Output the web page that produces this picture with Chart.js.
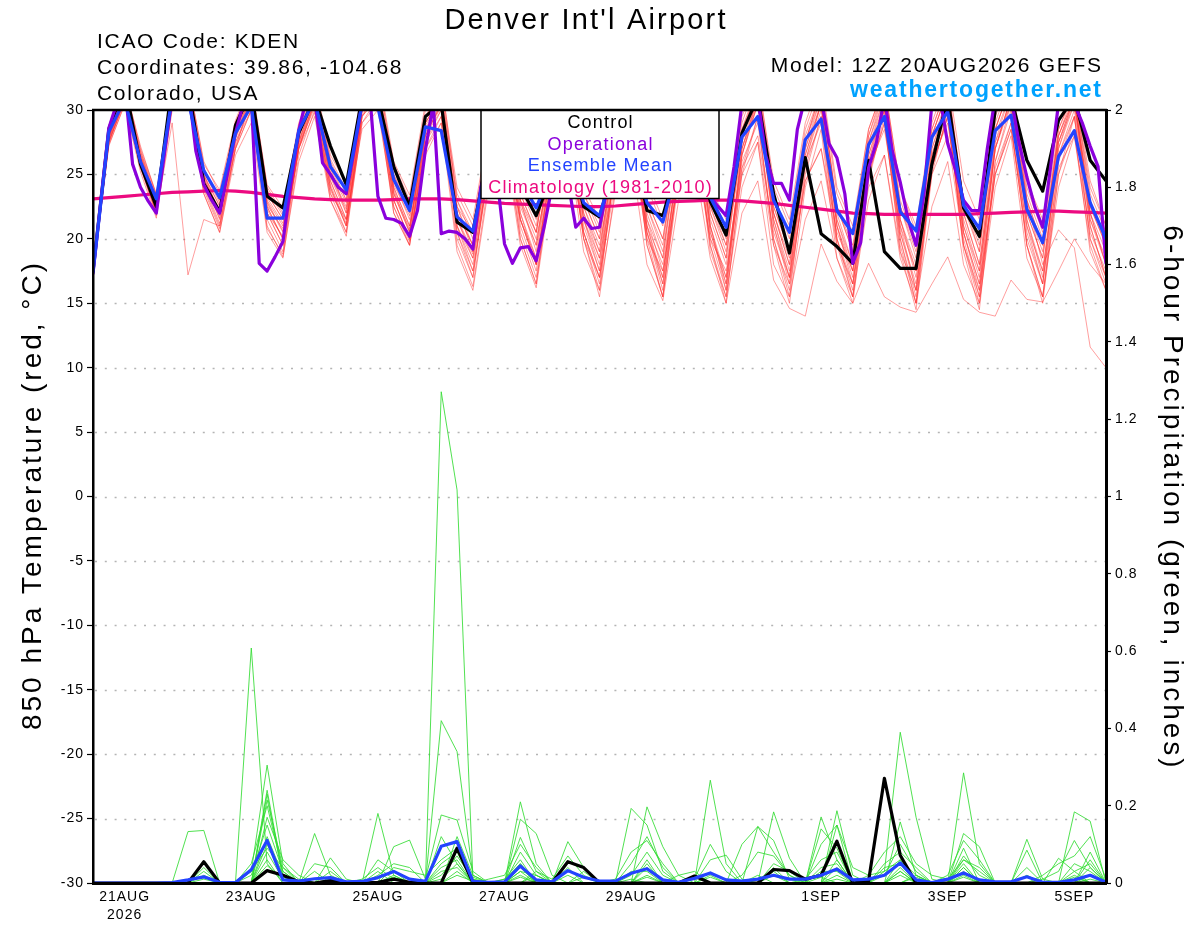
<!DOCTYPE html>
<html>
<head>
<meta charset="utf-8">
<script src="https://cdn.jsdelivr.net/npm/chart.js@4.4.1/dist/chart.umd.min.js"></script>
<style>
html,body{margin:0;padding:0;background:#fff;}
canvas{display:block;}
</style>
</head>
<body>
<canvas id="c" width="1200" height="927"></canvas>
<script>
// ---------------- text ----------------
const titleText = "Denver Int'l Airport";
const infoLines = ["ICAO Code: KDEN", "Coordinates: 39.86, -104.68", "Colorado, USA"];
const modelText = "Model: 12Z 20AUG2026 GEFS";
const siteText = "weathertogether.net";
const leftAxisTitle = "850 hPa Temperature (red, \u00B0C)";
const rightAxisTitle = "6-hour Precipitation (green, inches)";
const legendEntries = ["Control", "Operational", "Ensemble Mean", "Climatology (1981-2010)"];

// ---------------- x axis (hours after 12Z 20AUG2026) ----------------
const tickHours = [12, 60, 108, 156, 204, 276, 324, 372];
const tickLabels = [["21AUG", "2026"], "23AUG", "25AUG", "27AUG", "29AUG", "1SEP", "3SEP", "5SEP"];

// ---------------- 850 hPa temperature (6-hourly, 65 values) ----------------
const controlTemp = [17.5,
 28.5,32.0,25.8,22.5, 32.0,32.0,24.3,22.1, 28.8,31.5,23.3,22.4, 28.2,31.0,27.2,24.2,
 31.0,31.0,25.6,22.5, 29.5,30.5,21.3,20.5, 27.0,29.0,24.0,21.8, 25.0,27.5,22.5,21.7,
 26.0,28.0,22.2,21.8, 26.0,29.0,22.9,20.3, 28.2,31.0,23.5,18.9, 26.3,20.4,19.4,18.1,
 26.1,19.0,17.7,17.7, 25.8,31.0,22.4,20.2, 30.0,31.0,26.1,23.7, 29.2,31.0,26.1,24.5];
const meanTemp = [17.4,
 28.3,30.8,26.0,23.1, 31.0,30.8,25.3,23.2, 28.2,30.3,21.6,21.6, 28.4,30.8,25.6,23.8,
 30.5,30.2,24.6,22.2, 28.7,28.4,21.7,20.6, 26.5,28.0,24.5,22.4, 25.5,27.0,22.8,21.8,
 26.0,27.5,22.8,21.3, 26.0,28.0,23.2,20.9, 27.9,29.5,23.0,20.5, 27.7,29.3,22.2,20.4,
 27.3,29.5,22.1,20.6, 27.9,29.9,22.6,20.8, 28.4,29.6,22.3,19.7, 26.4,28.4,22.8,20.0];
// Operational run is 3-hourly (129 values)
const operTemp = [17.3,
 23.0,28.6,30.5,32.0,25.8,24.0,22.9,22.0,
 26.5,31.0,32.0,32.0,26.8,24.2,23.0,22.0,
 25.1,28.2,30.5,31.0,18.1,17.5,18.6,19.8,
 24.3,28.4,31.0,31.0,25.9,25.0,24.0,23.5,
 26.9,30.5,31.0,23.3,21.6,21.5,21.2,20.2,
 22.2,26.9,30.5,20.4,20.6,20.5,20.0,19.2,
 24.0,26.0,25.0,19.6,18.1,19.3,19.4,18.3,
 20.9,24.0,26.0,24.5,20.9,21.6,20.8,20.9,
 24.0,26.0,28.0,29.0,28.0,26.0,25.0,24.5,
 25.5,27.5,29.0,30.5,28.0,23.3,22.5,21.8,
 25.6,30.5,31.0,31.0,26.5,24.3,24.3,23.0,
 28.5,31.0,31.5,31.0,27.4,26.3,23.5,18.1,
 19.7,25.5,27.5,31.0,26.8,24.4,21.5,19.5,
 23.5,30.5,31.0,27.4,25.3,23.0,22.2,22.2,
 27.0,31.0,31.5,31.0,27.5,24.8,22.5,20.9,
 25.6,30.5,31.0,30.5,29.0,27.2,25.6,18.1];
const climTemp = [23.1,
 23.2,23.3,23.4,23.5, 23.6,23.65,23.7,23.75, 23.7,23.6,23.45,23.3, 23.2,23.1,23.05,23.0,
 23.0,23.0,23.05,23.1, 23.1,23.1,23.05,22.95, 22.85,22.75,22.7,22.65, 22.6,22.55,22.5,22.5,
 22.55,22.65,22.75,22.85, 22.9,22.95,23.0,23.0, 22.95,22.85,22.75,22.6, 22.45,22.3,22.15,22.0,
 21.95,21.9,21.9,21.9, 21.9,21.9,21.9,21.95, 22.0,22.05,22.1,22.15, 22.15,22.1,22.05,22.0];

// ensemble members (temperature)
const tempMember01 = [17.4, 28.0,31.5,26.5,22.8, 31.0,32.0,25.0,22.5, 28.5,31.5,23.0,21.0, 28.0,31.5,25.5,22.0, 30.5,32.0,24.5,21.5, 29.0,31.0,22.0,19.5, 27.0,30.5,23.5,20.5, 27.5,31.0,23.0,20.0, 28.0,31.5,22.5,19.0, 27.0,31.0,22.0,18.5, 28.0,32.0,23.5,19.0, 27.5,31.5,22.0,18.0, 27.0,31.0,22.5,19.5, 28.5,32.0,23.0,19.0, 29.0,32.5,23.5,20.0, 28.0,31.5,24.0,21.0];
const tempMember02 = [17.5, 27.5,30.8,25.8,22.0, 30.5,31.5,24.0,21.0, 27.5,30.5,22.0,19.5, 27.0,30.5,24.0,21.0, 29.5,31.5,23.5,20.5, 28.0,30.5,20.5,17.5, 25.5,29.0,21.5,18.0, 26.0,29.5,21.0,17.5, 26.5,30.5,21.5,17.5, 26.0,30.0,20.5,17.0, 26.5,31.0,21.0,16.5, 26.0,30.5,20.0,16.5, 25.5,30.0,20.5,16.5, 27.0,31.0,21.0,17.0, 27.5,31.5,21.5,17.5, 27.0,31.0,22.0,18.0];
const tempMember03 = [17.3, 28.5,32.0,27.0,23.5, 31.5,32.5,26.0,23.5, 29.0,32.0,24.0,22.0, 28.5,32.0,26.0,23.5, 31.0,32.5,25.5,22.5, 29.5,31.5,23.5,21.0, 28.0,31.5,24.5,21.5, 28.5,32.0,24.0,21.5, 29.0,32.0,24.0,21.0, 28.5,32.5,24.0,21.5, 29.0,32.5,24.5,21.5, 29.0,32.5,24.0,21.0, 28.5,32.0,24.0,21.0, 29.0,32.5,24.5,21.5, 29.5,32.5,24.5,21.5, 29.0,32.0,24.5,21.0];
const tempMember04 = [17.4, 27.8,31.2,26.0,22.3, 30.8,31.0,23.5,20.5, 26.5,29.0,20.5,18.5, 26.5,30.0,23.5,20.5, 29.0,31.0,22.5,19.5, 27.5,29.5,19.5,16.3, 24.5,28.0,20.0,16.5, 25.0,29.0,20.5,17.0, 25.5,29.5,19.5,15.5, 24.5,29.0,19.5,15.5, 25.0,29.5,19.5,15.0, 24.0,28.5,18.5,15.0, 24.5,29.5,19.0,14.5, 25.0,30.0,19.0,14.5, 26.0,30.5,19.5,15.0, 25.0,29.5,20.0,16.5];
const tempMember05 = [17.5, 27.2,30.5,25.5,22.0, 29.0,17.2,21.5,21.0, 27.0,31.0,22.5,20.0, 27.5,31.0,24.5,21.5, 30.0,31.5,24.0,21.0, 28.5,31.0,21.5,18.5, 26.5,30.0,22.5,19.5, 27.0,30.5,22.5,19.0, 27.5,31.0,23.0,20.0, 27.5,31.5,22.5,19.5, 27.0,31.0,22.0,18.5, 27.5,31.5,22.5,19.0, 28.0,32.0,23.0,19.5, 28.0,31.5,22.5,19.0, 28.5,32.0,23.0,19.5, 28.0,31.0,22.5,19.5];
const tempMember06 = [17.3, 27.6,30.6,26.2,22.6, 31.2,31.8,24.8,22.0, 28.2,31.2,23.5,21.5, 28.5,31.0,25.0,22.5, 30.0,31.0,23.0,20.0, 27.0,29.5,22.5,20.5, 27.5,30.0,23.0,20.0, 26.0,28.5,21.5,18.5, 25.0,27.5,21.0,18.0, 26.0,29.5,21.5,18.0, 25.5,28.0,20.5,17.0, 24.5,27.0,20.5,17.5, 25.5,28.5,21.0,17.5, 26.0,29.0,20.5,16.5, 25.0,28.5,21.0,17.5, 26.5,30.0,21.5,18.5];
const tempMember07 = [17.6, 28.2,31.8,26.8,23.0, 31.8,32.2,25.5,23.0, 29.0,31.8,22.8,20.5, 27.8,31.5,25.8,23.0, 30.8,32.0,25.0,22.0, 29.0,31.0,22.5,19.0, 26.0,29.5,22.0,18.5, 27.0,30.5,21.5,18.0, 27.0,30.5,22.0,18.5, 28.0,31.5,23.0,20.0, 28.5,31.5,22.0,18.0, 26.5,30.5,21.5,18.0, 27.5,31.5,21.5,17.0, 26.5,30.5,21.0,17.5, 27.0,31.0,22.0,18.5, 28.5,31.5,23.0,19.5];
const tempMember08 = [17.4, 27.9,31.3,26.3,22.4, 30.6,31.6,24.6,22.3, 28.0,31.0,22.3,20.0, 27.0,30.8,24.8,22.0, 30.2,31.8,24.0,21.0, 28.5,30.5,21.0,18.0, 26.0,29.5,21.5,18.0, 26.5,30.0,22.0,18.5, 27.0,30.5,21.0,17.0, 26.5,30.5,21.0,17.0, 27.0,30.5,21.5,17.5, 26.0,30.0,21.5,17.5, 27.0,30.5,21.5,18.0, 27.5,31.0,22.0,18.0, 27.5,30.5,23.0,18.0, 20.7,19.3,11.6,10.0];
const tempMember09 = [17.5, 27.4,30.9,25.6,21.8, 30.4,31.2,24.2,21.2, 27.2,30.6,21.5,19.0, 27.2,30.2,23.8,21.0, 29.8,31.2,23.0,20.0, 27.5,30.0,20.0,17.0, 25.5,28.5,20.0,16.5, 25.5,29.0,20.5,16.5, 25.5,29.5,19.5,15.5, 25.5,29.0,19.0,15.5, 24.0,27.5,18.0,15.5, 21.5,24.5,18.5,15.5, 23.0,26.5,18.5,15.0, 22.5,26.0,18.0,15.0, 24.0,28.0,18.5,15.5, 24.0,28.0,19.5,16.0];
const tempMember10 = [17.3, 27.3,30.4,25.2,21.6, 30.0,30.8,23.8,20.8, 27.0,30.0,21.0,18.6, 26.0,29.5,23.0,20.2, 29.0,30.5,22.0,19.5, 26.5,29.0,19.0,16.0, 24.0,27.5,19.5,16.2, 24.5,27.5,19.0,16.0, 23.5,26.5,18.0,15.2, 23.0,26.0,18.5,15.0, 22.0,24.5,16.8,14.6, 14.0,19.6,16.7,15.0, 18.1,15.5,14.7,14.3, 16.5,18.6,15.3,14.3, 14.0,16.8,15.3,15.1, 17.5,20.0,18.0,16.5];
const tempMember11 = [17.6, 28.1,31.6,26.6,23.2, 31.4,32.2,25.2,22.8, 28.6,31.8,23.8,21.8, 28.8,31.8,26.2,23.8, 31.2,32.5,25.8,23.0, 30.0,32.0,24.0,21.5, 28.5,31.5,24.0,21.0, 28.0,31.5,23.5,21.0, 28.5,32.0,24.5,21.5, 29.0,32.0,23.5,21.0, 29.5,32.5,24.0,21.0, 28.5,32.0,23.5,20.5, 28.5,32.0,24.0,20.5, 28.0,31.5,23.0,20.0, 28.5,32.0,24.0,20.5, 28.5,31.5,23.5,20.5];
const tempMember12 = [17.4, 27.7,31.0,25.9,22.2, 30.9,31.4,24.4,21.6, 27.8,30.8,22.6,20.8, 27.4,30.6,24.2,21.2, 29.6,31.4,23.6,20.8, 28.2,30.2,21.5,18.8, 27.0,30.0,22.8,19.5, 27.0,30.5,22.5,19.5, 26.5,29.5,20.5,16.5, 25.0,28.5,20.0,16.0, 26.0,29.0,20.0,16.0, 25.0,29.5,20.0,16.0, 26.0,30.0,20.0,15.5, 25.5,29.5,19.5,15.5, 26.0,30.0,20.5,16.5, 26.5,29.5,21.0,17.0];
const tempMember13 = [17.5, 27.5,30.7,25.7,22.1, 30.2,31.0,24.0,21.8, 27.5,30.0,22.0,20.2, 27.0,29.8,23.5,21.5, 28.5,30.0,22.5,19.8, 27.0,29.0,21.0,18.5, 25.0,27.5,21.5,18.5, 24.5,27.0,20.5,17.0, 24.5,27.5,20.0,17.5, 24.5,27.0,20.0,17.5, 25.0,27.5,19.5,16.5, 24.5,27.0,19.5,16.5, 24.0,26.5,19.0,16.0, 25.0,28.0,19.5,16.0, 25.0,28.5,20.0,16.5, 25.5,28.0,20.5,17.5];
const tempMember14 = [17.4, 28.3,31.9,27.2,23.4, 31.6,32.6,25.8,23.8, 29.2,32.2,24.2,22.4, 29.0,32.3,26.5,24.3, 31.5,33.0,26.0,23.4, 30.5,32.5,23.0,20.0, 28.0,31.0,23.0,20.5, 28.0,31.5,23.5,20.5, 28.5,31.5,23.0,20.0, 28.0,31.5,23.0,19.5, 28.5,32.0,23.5,20.0, 28.0,31.5,22.5,19.5, 27.5,31.0,22.5,19.0, 28.5,32.0,23.0,19.5, 28.5,32.0,23.0,19.5, 27.5,31.0,22.0,19.0];
const tempMember15 = [17.3, 27.9,31.4,26.4,22.7, 31.1,31.9,24.9,22.6, 28.4,31.4,23.2,21.2, 28.2,31.2,25.2,22.8, 30.6,31.6,24.2,21.8, 28.8,30.8,22.0,19.5, 26.5,30.0,22.0,18.0, 25.5,28.5,20.0,15.5, 24.0,28.0,20.5,16.0, 25.5,29.5,20.5,16.5, 26.5,30.5,21.0,17.0, 26.5,30.5,21.0,17.0, 26.5,30.0,20.5,16.0, 26.0,30.0,20.5,16.5, 27.0,31.0,21.5,17.0, 27.0,30.5,21.5,18.0];
const tempMember16 = [17.5, 28.0,31.2,26.1,22.5, 30.7,31.7,24.7,22.0, 28.1,31.1,22.9,20.6, 27.6,31.0,24.9,22.3, 30.3,31.5,23.8,20.6, 28.3,30.3,21.6,19.0, 26.5,29.5,21.0,17.5, 26.0,29.5,22.0,19.0, 27.0,30.0,21.5,18.5, 27.0,30.5,22.0,18.5, 27.5,31.0,22.5,19.0, 27.0,30.5,21.0,17.5, 26.5,30.5,21.5,17.5, 27.0,30.5,21.5,17.5, 27.0,30.5,22.0,18.5, 27.5,30.5,22.0,18.0];
const tempMember17 = [17.4, 28.0,31.5,26.0,22.2, 31.0,31.5,23.5,20.5, 27.0,30.0,20.8,18.8, 27.2,30.8,23.0,20.5, 29.5,31.0,22.0,19.5, 28.0,30.5,21.0,17.5, 25.0,28.5,21.5,18.0, 26.0,29.0,20.0,17.0, 25.5,29.5,20.5,17.0, 26.5,30.5,21.0,16.5, 27.0,31.0,22.0,18.0, 26.0,29.0,19.5,15.5, 25.0,29.0,20.0,15.0, 25.5,29.5,20.0,15.5, 25.5,29.0,19.5,15.5, 26.0,29.5,20.0,17.0];
const tempMember18 = [17.5, 27.8,31.0,26.5,23.0, 31.0,32.0,25.0,22.0, 28.5,31.0,22.0,19.5, 27.5,31.0,24.5,21.5, 30.0,31.5,23.5,20.5, 29.0,31.0,22.5,19.5, 27.5,31.0,23.0,19.0, 27.0,30.5,21.5,17.5, 26.0,29.5,21.0,16.5, 26.0,30.0,21.0,16.0, 26.5,30.5,21.5,17.0, 27.0,31.0,21.0,16.5, 26.0,30.5,21.0,16.0, 26.5,30.5,20.5,16.0, 27.0,31.0,21.0,16.5, 27.5,31.0,21.0,17.0];
const tempMember19 = [17.3, 27.6,31.0,25.8,22.0, 30.5,31.5,24.5,21.5, 27.8,31.0,22.5,20.0, 27.0,30.5,24.0,21.0, 29.5,31.0,23.0,20.0, 28.0,30.0,20.5,17.0, 26.0,29.0,20.5,17.0, 25.0,28.5,20.0,16.0, 26.0,29.5,20.0,15.5, 25.0,29.0,19.5,15.0, 25.5,29.5,20.0,15.5, 25.5,29.5,20.0,15.5, 25.0,29.0,19.5,15.0, 25.5,29.5,19.5,15.0, 25.0,29.0,19.5,15.5, 25.0,28.5,19.0,16.0];
const tempMember20 = [17.6, 28.2,31.6,26.8,23.4, 31.5,32.0,25.5,23.0, 28.8,31.5,23.5,21.5, 28.5,31.5,25.5,23.0, 30.5,32.0,25.0,22.5, 29.5,31.5,23.0,20.5, 28.0,31.0,23.5,20.5, 28.0,31.0,23.0,20.0, 27.5,31.0,22.5,19.5, 28.0,31.5,22.5,19.0, 28.0,31.5,22.5,19.0, 27.5,31.0,22.5,19.0, 28.0,31.5,22.5,18.5, 28.0,31.5,22.0,18.0, 28.0,31.5,22.5,19.0, 28.0,31.0,22.5,19.5];
const tempMembers = [tempMember01, tempMember02, tempMember03, tempMember04, tempMember05, tempMember06, tempMember07, tempMember08, tempMember09, tempMember10,
  tempMember11, tempMember12, tempMember13, tempMember14, tempMember15, tempMember16, tempMember17, tempMember18, tempMember19, tempMember20];

// ---------------- 6-hour precipitation (inches, 65 values) ----------------
const controlPrecip = [0,
 0,0,0,0, 0,0,0.055,0, 0,0,0.032,0.02, 0.003,0,0.006,0.002, 0,0.002,0.01,0.002, 0,0,0.09,0.002,
 0,0,0,0, 0,0.055,0.04,0, 0,0,0,0, 0,0.018,0,0, 0,0,0.035,0.032, 0.01,0.02,0.108,0,
 0.005,0.271,0.072,0, 0,0,0,0, 0,0,0,0, 0,0,0,0];
const meanPrecip = [0,
 0,0,0,0, 0.001,0.008,0.016,0.002, 0.001,0.034,0.11,0.008, 0.005,0.011,0.014,0.003, 0.004,0.014,0.03,0.01, 0.004,0.095,0.107,0.004,
 0.002,0.003,0.044,0.008, 0.003,0.032,0.015,0.005, 0.005,0.025,0.037,0.008, 0.002,0.012,0.026,0.008, 0.005,0.01,0.02,0.01, 0.01,0.02,0.036,0.008,
 0.01,0.02,0.052,0.008, 0.001,0.01,0.026,0.008, 0.003,0.003,0.016,0.002, 0.002,0.008,0.02,0.002];
const precipMember01 = [0, 0,0,0,0, 0,0.133,0.136,0, 0,0.05,0.2,0.03, 0,0,0,0, 0,0,0,0, 0,0.05,0.08,0, 0,0,0.03,0, 0,0,0,0, 0,0,0.197,0.094, 0.02,0,0,0, 0,0,0,0, 0,0,0.15,0, 0,0,0.03,0, 0,0,0.128,0.094, 0,0,0,0, 0,0.02,0,0];
const precipMember02 = [0, 0,0,0,0, 0,0,0,0, 0,0.608,0.05,0, 0,0,0,0, 0,0.18,0.02,0, 0,0.12,0.05,0, 0,0,0,0.02, 0,0,0,0, 0,0.193,0.15,0.03, 0,0,0,0, 0,0,0,0, 0,0.171,0.06,0, 0,0,0,0.02, 0,0,0,0, 0,0,0.113,0.01, 0,0,0,0];
const precipMember03 = [0, 0,0,0,0, 0,0,0,0, 0,0.03,0.305,0.05, 0,0.128,0.02,0, 0,0,0,0, 0,1.271,1.017,0.015, 0,0,0.21,0.05, 0,0,0,0, 0,0,0,0, 0,0,0.266,0.05, 0,0,0,0, 0,0,0,0, 0,0.03,0.39,0.17, 0.01,0,0,0, 0,0,0,0, 0,0,0,0];
const precipMember04 = [0, 0,0,0,0, 0,0,0,0, 0,0,0.24,0.02, 0,0,0.065,0.01, 0,0,0,0, 0,0.42,0.34,0.02, 0,0,0.165,0.128, 0.02,0,0,0, 0,0,0,0, 0,0,0,0, 0,0,0.184,0.064, 0,0,0.187,0.02, 0,0,0,0, 0,0,0.285,0.05, 0,0,0,0, 0,0.184,0.16,0];
const precipMember05 = [0, 0,0,0,0, 0,0,0.04,0, 0,0,0.23,0.01, 0,0,0,0, 0,0,0.094,0.111, 0.01,0.176,0.163,0.03, 0,0,0,0, 0,0.107,0.04,0, 0,0,0.05,0, 0,0,0,0, 0,0.146,0.11,0.01, 0,0,0,0, 0,0,0.158,0.02, 0,0,0,0, 0,0,0,0, 0,0,0.06,0];
const precipMember06 = [0, 0,0,0,0, 0,0,0.03,0, 0,0,0.215,0.04, 0,0.05,0.04,0, 0,0.06,0.03,0, 0,0,0.12,0.02, 0,0,0.118,0.03, 0,0,0,0, 0,0.02,0.08,0.02, 0,0,0,0, 0,0,0,0, 0,0.14,0.09,0, 0,0,0,0, 0,0,0.07,0.02, 0,0,0,0, 0.064,0.03,0,0];
const precipMember07 = [0, 0,0,0,0, 0,0,0,0, 0,0,0.17,0.06, 0.02,0,0,0, 0,0,0.04,0.03, 0.02,0.06,0.09,0.01, 0,0.01,0.06,0, 0,0,0.03,0, 0,0.05,0.12,0.04, 0,0,0,0, 0,0,0.05,0.03, 0,0,0.06,0, 0,0.02,0.1,0.03, 0,0,0.09,0, 0,0,0.085,0, 0,0,0.08,0];
const precipMember08 = [0, 0,0,0,0, 0,0,0,0, 0,0.02,0.15,0.03, 0,0,0.03,0, 0,0.02,0.05,0.04, 0,0.04,0.06,0, 0,0,0.08,0.02, 0,0.04,0,0, 0,0,0.06,0, 0,0,0.06,0.072, 0.01,0,0,0, 0,0.04,0.05,0, 0,0,0.06,0, 0,0,0.06,0.03, 0,0,0.04,0, 0,0.05,0.03,0];
const precipMember09 = [0, 0,0,0,0, 0,0,0,0, 0,0,0.12,0.02, 0,0.03,0,0, 0,0.03,0,0, 0,0.03,0.04,0, 0,0,0.05,0, 0,0,0,0, 0,0,0.04,0, 0,0.02,0,0, 0,0,0.04,0, 0,0,0.04,0, 0,0.04,0.05,0, 0,0,0.05,0, 0,0,0,0, 0,0.03,0.05,0];
const precipMember10 = [0, 0,0,0,0, 0,0,0.02,0, 0,0,0.1,0.015, 0,0,0,0, 0,0,0.02,0, 0,0.02,0.07,0.01, 0,0,0.04,0, 0,0.02,0,0, 0,0.03,0.03,0, 0,0,0.02,0, 0,0,0.03,0, 0,0.03,0.03,0, 0,0,0.04,0, 0,0,0.04,0, 0,0,0.02,0, 0,0,0.04,0];
const precipMember11 = [0, 0,0,0,0, 0,0,0,0, 0,0,0.08,0.01, 0,0,0.01,0, 0,0,0,0, 0,0.01,0.05,0, 0,0,0.03,0.02, 0,0,0,0, 0,0,0.02,0, 0,0,0,0, 0,0,0.02,0, 0,0,0.02,0, 0,0,0.03,0, 0,0,0.03,0, 0,0,0,0, 0,0,0.02,0];
const precipMember12 = [0, 0,0,0,0, 0,0,0.01,0, 0,0,0.06,0, 0,0,0,0, 0,0,0.015,0, 0,0,0.03,0, 0,0,0.02,0, 0,0,0.015,0, 0,0,0.015,0, 0,0,0,0, 0,0.02,0,0, 0,0.015,0,0, 0,0,0,0.015, 0,0,0.02,0, 0,0,0,0, 0,0.015,0,0];
const precipMember13 = [0, 0,0,0,0, 0,0,0,0, 0,0,0.045,0.01, 0,0,0,0, 0,0,0,0, 0,0,0.02,0.005, 0,0,0.015,0, 0,0,0,0, 0,0.01,0,0, 0,0,0.015,0, 0,0,0,0, 0,0,0.01,0, 0,0,0.02,0, 0,0,0.015,0, 0,0,0,0, 0,0,0.01,0];
const precipMember14 = [0, 0,0,0,0, 0,0,0,0, 0,0.03,0.09,0.04, 0.01,0,0,0, 0.01,0.04,0.01,0, 0,0,0,0, 0.01,0.02,0.1,0.04, 0,0,0,0, 0.01,0.08,0.11,0.05, 0,0,0,0, 0.02,0.08,0.07,0.02, 0,0,0,0, 0,0.05,0.08,0.04, 0,0.02,0.11,0.06, 0,0,0,0.01, 0.03,0.11,0.04,0];
const precipMember15 = [0, 0,0,0,0, 0,0,0,0, 0,0,0,0, 0,0,0,0, 0,0,0,0, 0,0,0,0, 0,0.01,0.05,0, 0,0,0,0, 0,0,0,0, 0.02,0.03,0,0, 0.1,0.146,0.08,0.02, 0,0.1,0.15,0.04, 0.02,0.03,0.06,0.02, 0,0,0.04,0, 0,0,0,0, 0,0,0,0];
const precipMember16 = [0, 0,0,0,0, 0,0,0,0, 0,0,0,0, 0,0,0,0, 0,0,0,0, 0,0,0,0, 0,0,0,0.03, 0.01,0.07,0.02,0, 0,0,0,0, 0,0.01,0.1,0.03, 0,0,0,0, 0.01,0.06,0.08,0, 0.02,0.08,0.12,0.05, 0.02,0.01,0.06,0.04, 0,0,0,0.02, 0.05,0.07,0.12,0.01];
const precipMembers = [precipMember01, precipMember02, precipMember03, precipMember04, precipMember05, precipMember06, precipMember07, precipMember08,
  precipMember09, precipMember10, precipMember11, precipMember12, precipMember13, precipMember14, precipMember15, precipMember16];

// ---------------- styles ----------------
const FONT = "'Liberation Sans', Arial, Helvetica, sans-serif";
const C_RED = 'rgba(255,45,45,0.55)';
const C_GREEN = 'rgb(50,220,50)';
const C_CONTROL = '#000000';
const C_OPER = '#8a00dc';
const C_MEAN = '#2343ff';
const C_CLIM = '#ec0a80';
const C_SITE = '#00a2ff';

const pts6 = arr => arr.map((v, i) => ({x: i * 6, y: v}));
const pts3 = arr => arr.map((v, i) => ({x: i * 3, y: v}));

const datasets = [];
tempMembers.forEach(m => datasets.push({data: pts6(m), yAxisID: 'y', borderColor: C_RED, borderWidth: 0.85, order: 10}));
precipMembers.forEach(m => datasets.push({data: pts6(m), yAxisID: 'y2', borderColor: C_GREEN, borderWidth: 0.85, order: 9}));
datasets.push({data: pts6(climTemp), yAxisID: 'y', borderColor: C_CLIM, borderWidth: 3.2, order: 4});
datasets.push({data: pts6(controlTemp), yAxisID: 'y', borderColor: C_CONTROL, borderWidth: 3.2, order: 3});
datasets.push({data: pts6(controlPrecip), yAxisID: 'y2', borderColor: C_CONTROL, borderWidth: 3.2, order: 3});
datasets.push({data: pts3(operTemp), yAxisID: 'y', borderColor: C_OPER, borderWidth: 3.2, order: 2});
datasets.push({data: pts6(meanTemp), yAxisID: 'y', borderColor: C_MEAN, borderWidth: 3.2, order: 1});
datasets.push({data: pts6(meanPrecip), yAxisID: 'y2', borderColor: C_MEAN, borderWidth: 3.2, order: 1});
datasets.forEach(d => { d.pointRadius = 0; d.tension = 0; d.fill = false; d.clip = 0; d.borderJoinStyle = 'round'; d.borderCapStyle = 'round'; });

function spacedText(ctx, text, x, y, font, spacing, color, align) {
  ctx.save();
  ctx.font = font;
  ctx.fillStyle = color;
  ctx.letterSpacing = spacing + 'px';
  ctx.textAlign = align || 'left';
  ctx.textBaseline = 'alphabetic';
  let dx = 0;
  if (align === 'center') dx = spacing / 2;
  if (align === 'right') dx = spacing;
  ctx.fillText(text, x + dx, y);
  ctx.restore();
}

const decor = {
  id: 'decor',
  beforeDraw(chart) {
    chart.ctx.letterSpacing = '1px';
  },
  beforeDatasetsDraw(chart) {
    const {ctx, chartArea: a, scales} = chart;
    const y = scales.y;
    ctx.save();
    ctx.strokeStyle = '#b4b4b4';
    ctx.lineWidth = 1.6;
    ctx.setLineDash([2, 7.8]);
    y.ticks.forEach(t => {
      if (t.value <= y.min || t.value >= y.max) return;
      const py = Math.round(y.getPixelForValue(t.value)) + 0.5;
      ctx.beginPath(); ctx.moveTo(a.left + 2, py); ctx.lineTo(a.right, py); ctx.stroke();
    });
    ctx.restore();
  },
  afterDatasetsDraw(chart) {
    const {ctx, chartArea: a} = chart;
    ctx.save();
    const bx = 481, bw = 238, by = a.top, bh = 88.5;
    ctx.fillStyle = '#fff';
    ctx.fillRect(bx, by, bw, bh);
    ctx.strokeStyle = '#000'; ctx.lineWidth = 1.5;
    ctx.strokeRect(bx, by, bw, bh);
    ctx.restore();
    const cx = bx + bw / 2;
    const cols = [C_CONTROL, C_OPER, C_MEAN, C_CLIM];
    const bases = [128, 149.5, 171, 193];
    legendEntries.forEach((t, i) => spacedText(ctx, t, cx, bases[i], "18px " + FONT, 1.2, cols[i], 'center'));
    ctx.save();
    ctx.strokeStyle = '#000'; ctx.lineWidth = 2.5;
    ctx.beginPath(); ctx.moveTo(a.left - 1, a.top); ctx.lineTo(a.right + 1, a.top); ctx.stroke();
    ctx.restore();
  },
  afterDraw(chart) {
    const {ctx, chartArea: a} = chart;
    spacedText(ctx, titleText, 585, 29, "29px " + FONT, 2.2, '#000', 'center');
    const ib = [48, 74, 100];
    infoLines.forEach((t, i) => spacedText(ctx, t, 97, ib[i], "21px " + FONT, 1.7, '#000', 'left'));
    spacedText(ctx, modelText, 1101, 72, "21px " + FONT, 1.7, '#000', 'right');
    spacedText(ctx, siteText, 1101, 97, "bold 23px " + FONT, 1.8, C_SITE, 'right');
    ctx.save();
    ctx.font = "28px " + FONT;
    ctx.letterSpacing = '3px';
    ctx.fillStyle = '#000';
    ctx.textAlign = 'center';
    ctx.textBaseline = 'middle';
    const midY = (a.top + a.bottom) / 2;
    ctx.save(); ctx.translate(33, midY); ctx.rotate(-Math.PI / 2); ctx.fillText(leftAxisTitle, 1.5, 0); ctx.restore();
    ctx.save(); ctx.translate(1172, midY); ctx.rotate(Math.PI / 2); ctx.fillText(rightAxisTitle, 1.5, 0); ctx.restore();
    ctx.restore();
  }
};

Chart.defaults.font.family = FONT;
Chart.defaults.font.size = 14;
Chart.defaults.color = '#000';

new Chart(document.getElementById('c'), {
  type: 'line',
  data: {datasets},
  options: {
    responsive: false,
    animation: false,
    devicePixelRatio: 1,
    events: [],
    layout: {padding: {top: 110, left: 0, right: 0, bottom: 0}},
    plugins: {legend: {display: false}, tooltip: {enabled: false}, title: {display: false}},
    scales: {
      x: {
        type: 'linear', position: 'bottom', min: 0, max: 384,
        afterBuildTicks: s => { s.ticks = tickHours.map(v => ({value: v})); },
        afterFit: s => { s.height = 44; },
        grid: {display: false, drawTicks: false},
        border: {display: true, color: '#000', width: 3, z: 1},
        ticks: {
          autoSkip: false, maxRotation: 0, minRotation: 0, padding: 5,
          font: {size: 14, lineHeight: 1.3},
          callback: v => { const k = tickHours.indexOf(v); return k >= 0 ? tickLabels[k] : ''; }
        }
      },
      y: {
        type: 'linear', position: 'left', min: -30, max: 30,
        afterFit: s => { s.width = 93; },
        ticks: {stepSize: 5, padding: 3, font: {size: 14}},
        grid: {display: true, drawOnChartArea: false, drawTicks: true, tickLength: 6, tickColor: '#000', tickWidth: 1.2},
        border: {display: true, color: '#000', width: 2.5, z: 1}
      },
      y2: {
        type: 'linear', position: 'right', min: 0, max: 2,
        afterFit: s => { s.width = 94; },
        ticks: {stepSize: 0.2, padding: 4, font: {size: 14}, callback: v => String(+Number(v).toFixed(1))},
        grid: {display: true, drawOnChartArea: false, drawTicks: true, tickLength: 5, tickColor: '#000', tickWidth: 1.2},
        border: {display: true, color: '#000', width: 3, z: 1}
      }
    }
  },
  plugins: [decor]
});
</script>
</body>
</html>
